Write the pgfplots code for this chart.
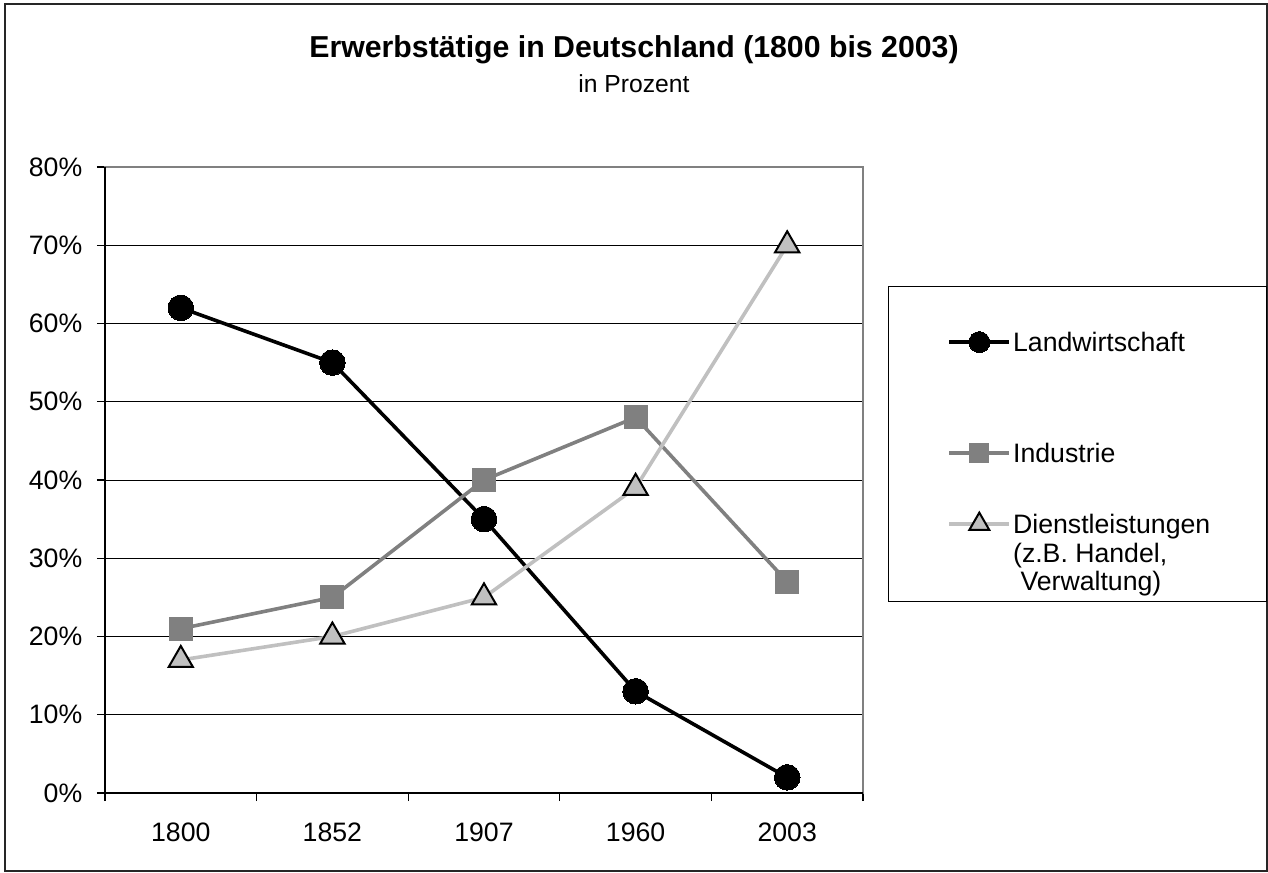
\documentclass[border=0pt]{standalone}
\usepackage{fontspec}
\setmainfont{Liberation Sans}
\usepackage{pgfplots}
\usepackage{pgfplotstable}
\pgfplotsset{compat=1.18}
\definecolor{midgray}{HTML}{808080}
\definecolor{lightgraytwo}{HTML}{C0C0C0}
\pgfplotstableread{
x L I D
0 62 21 17
1 55 25 20
2 35 40 25
3 13 48 39
4 2 27 70
}\datatable
\begin{document}
\begin{tikzpicture}
\useasboundingbox (0,0) rectangle (951pt,654pt);
\draw[black!85, line width=1.2pt] (3.6pt,0.6pt) -- (3.6pt,650.8pt) -- (950.4pt,650.8pt) -- (950.4pt,0.6pt) -- cycle;
\node[font=\bfseries\fontsize{22.7pt}{25pt}\selectfont] at (475.5pt,616.5pt) {Erwerbstätige in Deutschland (1800 bis 2003)};
\node[font=\fontsize{18.5pt}{21pt}\selectfont] at (475.5pt,591pt) {in Prozent};
\begin{axis}[
  at={(78.75pt,59.25pt)}, anchor=south west,
  scale only axis, width=568.5pt, height=469.5pt,
  xmin=-0.5, xmax=4.5, ymin=0, ymax=80,
  xtick={0,...,4}, xticklabels={1800,1852,1907,1960,2003},
  minor xtick={-0.5,0.5,...,4.5},
  ytick={0,10,...,80},
  yticklabel={\pgfmathprintnumber{\tick}\%},
  /pgf/number format/assume math mode=true,
  tick label style={font=\fontsize{20pt}{24pt}\selectfont, black},
  xticklabel style={yshift=-12.75pt},
  yticklabel style={xshift=-7.5pt},
  tick align=outside,
  xtick pos=bottom, ytick pos=left,
  major tick length=6pt,
  minor tick length=6pt,
  major x tick style={draw=none},
  tick style={black, line width=0.9pt},
  ymajorgrids, major grid style={black, line width=0.75pt},
  axis line style={midgray, line width=1.5pt},
  clip=false,
  legend style={at={(1.033,0.810)}, anchor=north west, draw=black, line width=0.75pt,
    inner xsep=0pt, inner ysep=0pt, row sep=0pt, column sep=1.5pt,
    cells={anchor=base west},
    font=\fontsize{20pt}{21.5pt}\selectfont, nodes={inner sep=0pt, text depth=}},
  every legend image post/.style={line width=2.7pt},
  legend image code/.code={
    \path (0pt,0pt);
    \draw[mark repeat=2, mark phase=2, #1, every mark/.append style={scale=0.82}]
      plot coordinates {(44.25pt,7pt) (66.75pt,7pt) (89.25pt,7pt)};
  },
]
\draw[black, line width=1.2pt] (rel axis cs:0,1) -- (rel axis cs:0,0) -- (rel axis cs:1,0);
\addplot[black, line width=2.7pt, mark=*, mark size=9.6pt,
  mark options={fill=black, draw=black, line width=0pt}] table[x=x, y=L] {\datatable};
\addlegendentry{\makebox[190pt][l]{\rule[-20pt]{0pt}{68.75pt}Landwirtschaft}}
\addplot[midgray, line width=2.7pt, mark=square*, mark size=8.6pt,
  mark options={fill=midgray, draw=midgray, line width=0pt}] table[x=x, y=I] {\datatable};
\addlegendentry{\makebox[190pt][l]{\rule[-20pt]{0pt}{83.25pt}Industrie}}
\addplot[lightgraytwo, line width=2.7pt, mark=triangle*, mark size=10.5pt,
  mark options={fill=lightgraytwo, draw=black, line width=1.5pt}] table[x=x, y=D] {\datatable};
\addlegendentry{\makebox[190pt][l]{\rule[-51pt]{0pt}{84.25pt}\begin{tabular}[t]{@{}l@{}}Dienstleistungen\\(z.B. Handel,\\\ Verwaltung)\end{tabular}}}
\end{axis}
\end{tikzpicture}
\end{document}
